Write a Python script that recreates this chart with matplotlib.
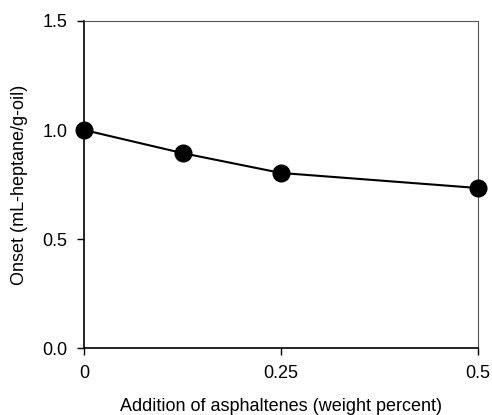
import matplotlib.pyplot as plt

# Data
asphaltenes = [0.0, 0.125, 0.25, 0.5]
onset = [1.0, 0.894, 0.803, 0.734]
x_ticks = [0, 0.25, 0.5]
x_tick_labels = ["0", "0.25", "0.5"]
y_ticks = [0.0, 0.5, 1.0, 1.5]
y_tick_labels = ["0.0", "0.5", "1.0", "1.5"]

plt.rcParams["font.family"] = ["Liberation Sans", "DejaVu Sans"]

fig = plt.figure(figsize=(4.92, 4.15), dpi=100)
ax = fig.add_axes([0.171, 0.1614, 0.8, 0.788])

ax.plot(asphaltenes, onset, color="black", linewidth=1.5, marker="o",
        markersize=12, markerfacecolor="black", clip_on=False, zorder=3)

ax.set_xlim(0, 0.5)
ax.set_ylim(0, 1.5)
ax.set_xticks(x_ticks)
ax.set_xticklabels(x_tick_labels, fontsize=13)
ax.set_yticks(y_ticks)
ax.set_yticklabels(y_tick_labels, fontsize=13)
ax.tick_params(direction="out", length=5, width=1, pad=7)

for side in ["left", "bottom"]:
    ax.spines[side].set_linewidth(1.2)
for side in ["top", "right"]:
    ax.spines[side].set_linewidth(0.8)
    ax.spines[side].set_color("#555555")

ax.set_xlabel("Addition of asphaltenes (weight percent)", fontsize=13, labelpad=12)
ax.set_ylabel("Onset (mL-heptane/g-oil)", fontsize=13, labelpad=10)

fig.savefig("out.png", dpi=100)
